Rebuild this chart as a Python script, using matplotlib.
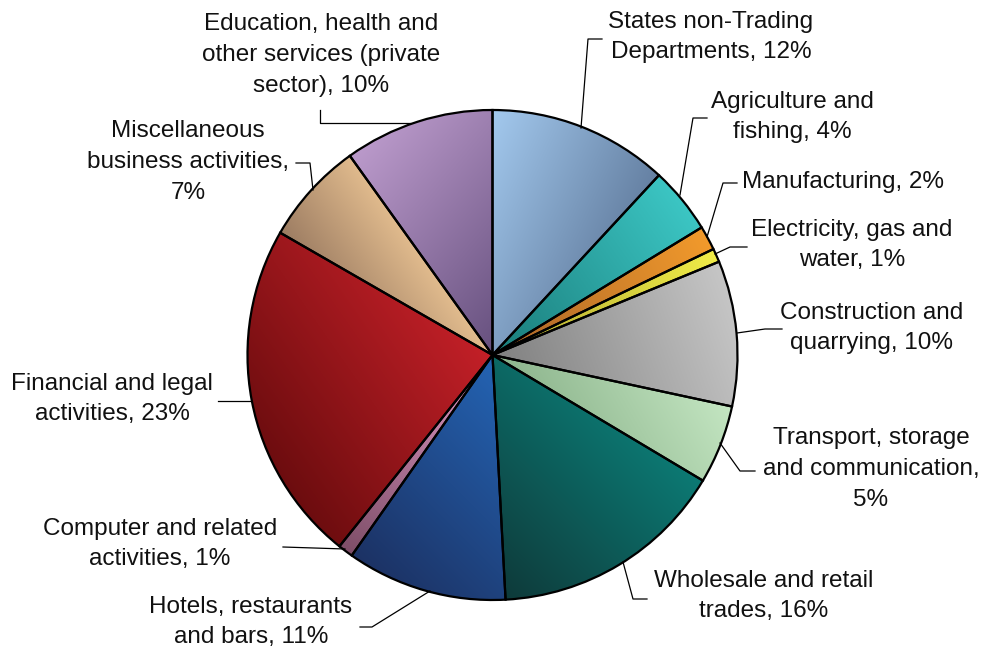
import numpy as np
import matplotlib
matplotlib.use("Agg")
import matplotlib.pyplot as plt
from matplotlib.colors import to_rgb

# sector shares of employment, clockwise from 12 o'clock
sectors = [
    "States non-Trading\nDepartments",
    "Agriculture and\nfishing",
    "Manufacturing",
    "Electricity, gas and\nwater",
    "Construction and\nquarrying",
    "Transport, storage\nand communication,\n",
    "Wholesale and retail\ntrades",
    "Hotels, restaurants\nand bars",
    "Computer and related\nactivities",
    "Financial and legal\nactivities",
    "Miscellaneous\nbusiness activities,\n",
    "Education, health and\nother services (private\nsector)",
]
shares = [11.9, 4.4, 1.6, 0.9, 9.6, 5.2, 15.6, 10.6, 1.0, 22.6, 6.8, 9.9]

# light / dark ends of each slice's gradient and the direction it darkens (deg)
light = ["#A3C9EE", "#3CC6C4", "#F29A2C", "#F0EC48", "#C6C6C6", "#C4E6C2",
         "#0C7A74", "#2464B4", "#E49CC8", "#C42028", "#E2BC8E", "#BB9ACB"]
dark = ["#6580A2", "#1A7C7A", "#A86428", "#B0A830", "#808080", "#8CB48C",
        "#0E3A3A", "#1C3264", "#7E4E68", "#6A0C0E", "#9C7C62", "#66507E"]
shade_dir = [-25, 215, 205, 200, 200, 210, 225, 225, 240, 215, 215, -40]

W, H = 983, 648
fig = plt.figure(figsize=(W / 100, H / 100), dpi=100)
ax = fig.add_axes([0, 0, 1, 1])

cx, cy, r = 492.5, H - 355, 245
wedges, _ = ax.pie(shares, startangle=90, counterclock=False, center=(cx, cy),
                   radius=r, colors=["none"] * len(shares),
                   wedgeprops=dict(edgecolor="black", linewidth=1.6, zorder=3))

# gradient fill for every wedge, clipped to its shape
xs = np.arange(cx - r - 2, cx + r + 2, 1.0)
ys = np.arange(cy - r - 2, cy + r + 2, 1.0)
gx, gy = np.meshgrid(xs, ys)
for w, c0, c1, ang in zip(wedges, light, dark, shade_dir):
    d = np.array([np.cos(np.radians(ang)), np.sin(np.radians(ang))])
    verts = w.get_path().vertices
    proj = verts @ d
    t = (gx * d[0] + gy * d[1] - proj.min()) / (proj.max() - proj.min())
    t = np.clip(t, 0, 1)[..., None]
    img = np.array(to_rgb(c0)) * (1 - t) + np.array(to_rgb(c1)) * t
    im = ax.imshow(img, origin="lower", extent=(xs[0], xs[-1], ys[0], ys[-1]),
                   zorder=2, interpolation="bilinear")
    im.set_clip_path(w)

# label centres and leader lines (pixel positions, y measured from the top)
label_pos = [(711, 37), (792, 117), (843, 182), (852, 245), (872, 328),
             (871, 469), (764, 596), (251, 622), (160, 544), (112, 399),
             (188, 162), (321, 55)]
leaders = [
    [(602, 39), (588, 39), (581, 128)],
    [(707, 118), (693, 118), (680, 195)],
    [(737, 183), (723, 183), (707, 237)],
    [(747, 247), (730, 247), (715, 254)],
    [(782, 329), (765, 329), (737, 333)],
    [(755, 471), (740, 471), (720, 443)],
    [(647, 599), (633, 599), (623, 562)],
    [(360, 627), (372, 627), (430, 591)],
    [(283, 547), (345, 549)],
    [(218, 401), (250, 401)],
    [(296, 163), (310, 163), (313, 190)],
    [(320, 110), (320, 123), (410, 123)],
]

for name, v, (lx, ly), pts in zip(sectors, shares, label_pos, leaders):
    if name.endswith("\n"):
        text = f"{name}{v:.0f}%"
    else:
        text = f"{name}, {v:.0f}%"
    ax.text(lx, H - ly, text, ha="center", va="center", fontsize=17.5,
            family="Liberation Sans", color="#111111", linespacing=1.52,
            zorder=5)
    px = [p[0] for p in pts]
    py = [H - p[1] for p in pts]
    ax.plot(px, py, color="black", linewidth=0.9, zorder=4)

ax.set_xlim(0, W)
ax.set_ylim(0, H)
ax.set_aspect("equal")
ax.axis("off")

fig.savefig("out.png", dpi=100)
